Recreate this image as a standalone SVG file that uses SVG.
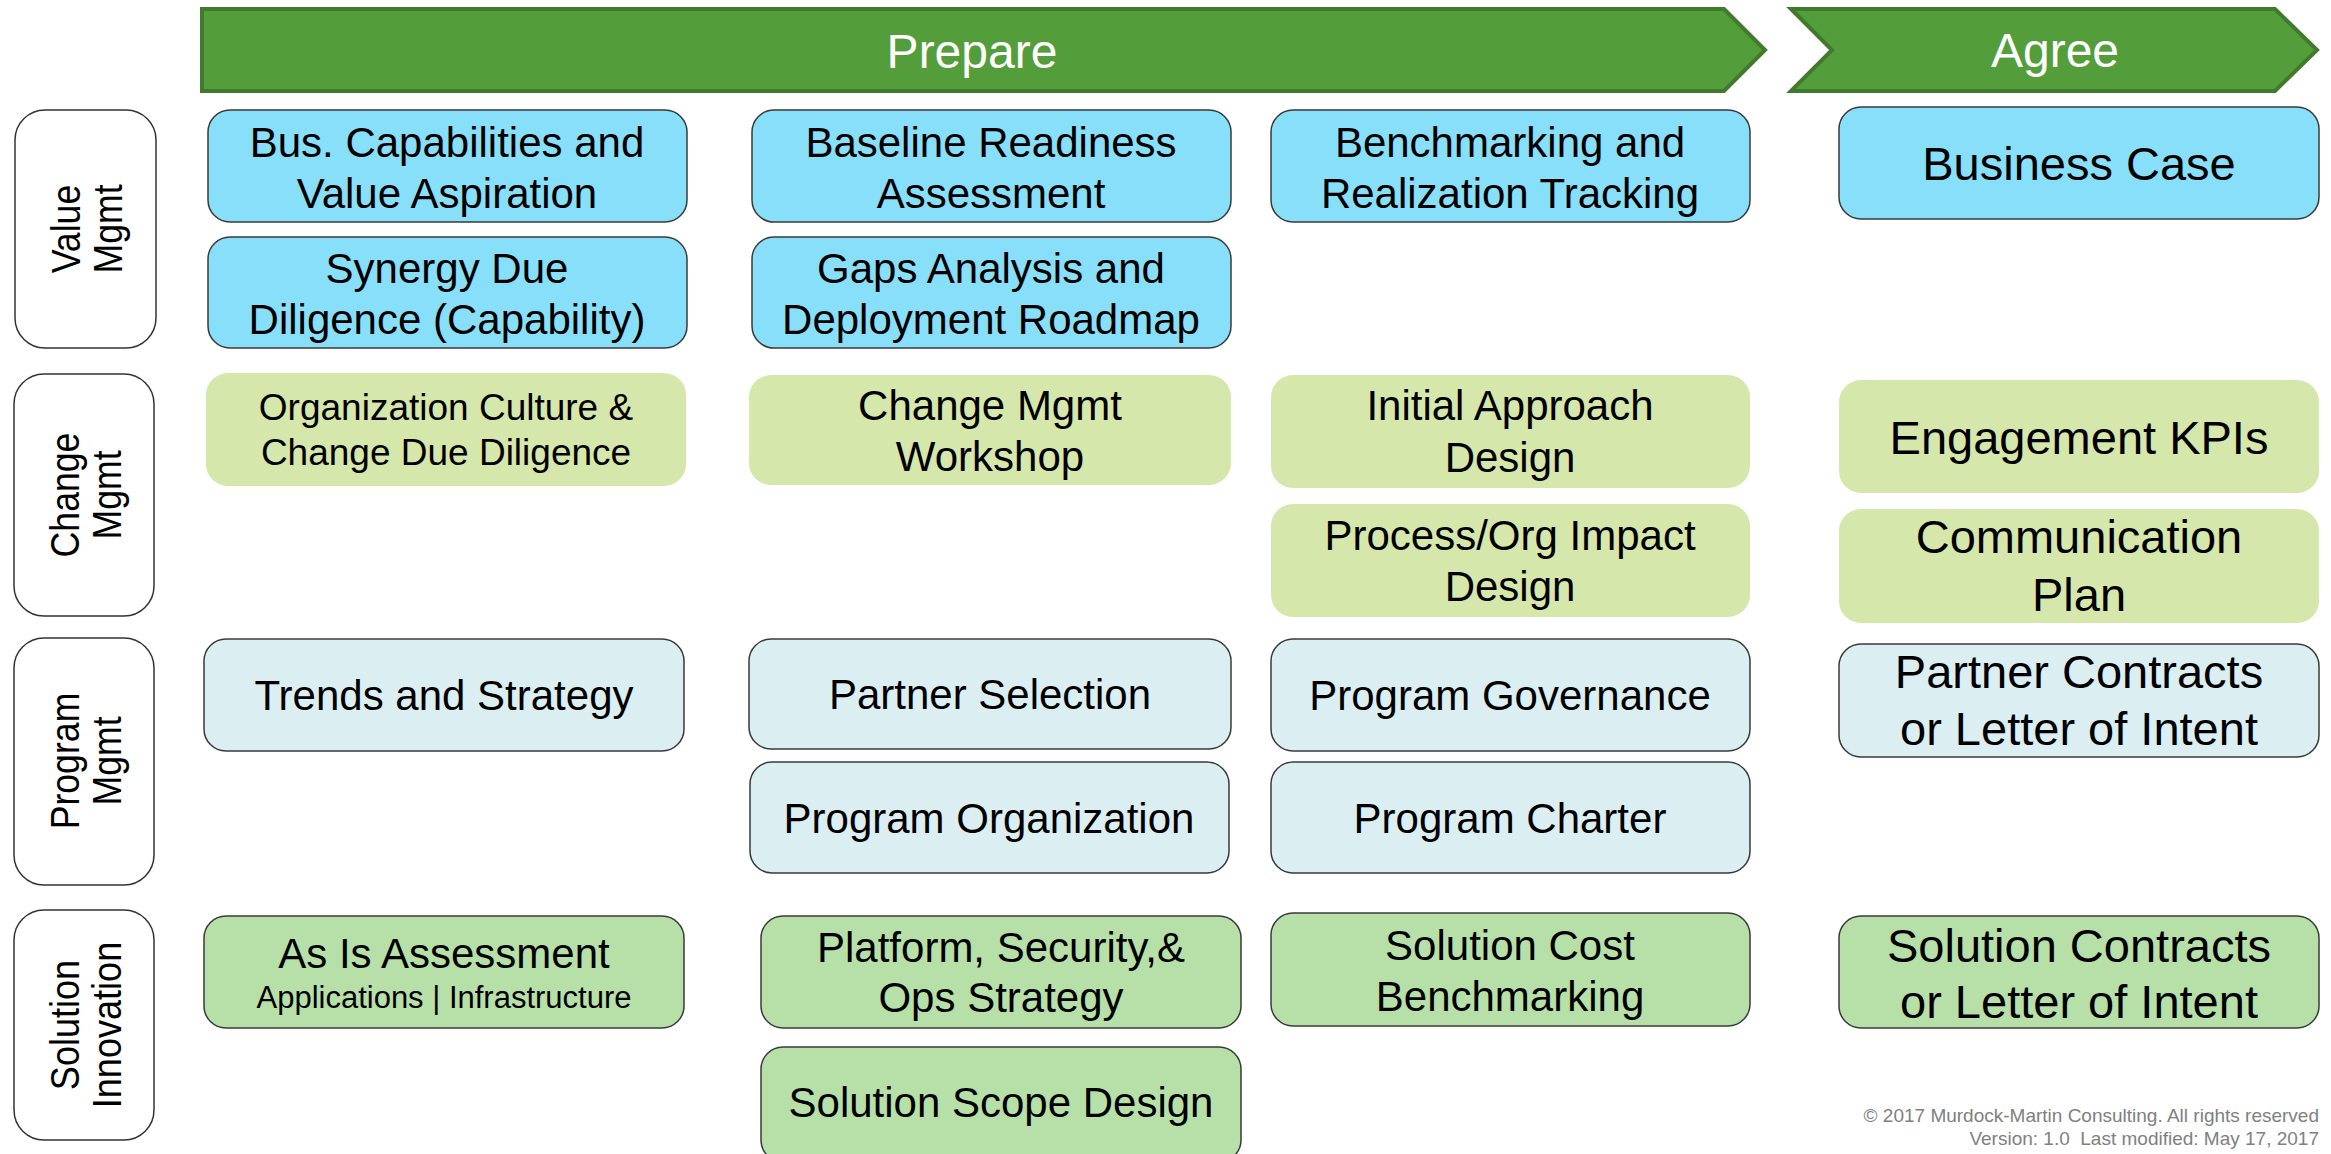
<svg xmlns="http://www.w3.org/2000/svg" width="2331" height="1154" viewBox="0 0 2331 1154">
<style>
text{font-family:"Liberation Sans",Arial,sans-serif;text-anchor:middle;fill:#000}
.phase{fill:#539d3b;stroke:#427a2d;stroke-width:4;stroke-linejoin:miter}
.pt{fill:#fff;font-size:48px}
.lab{fill:#fff;stroke:#333;stroke-width:1.5}
.lt{font-size:41px}
.vm{fill:#87dff9;stroke:#3a3a3a;stroke-width:1.5}
.cm{fill:#d6e7ab;stroke:none}
.pm{fill:#dbeff3;stroke:#3a3a3a;stroke-width:1.5}
.si{fill:#b7e0a9;stroke:#3a3a3a;stroke-width:1.5}
.t42{font-size:42px}
.t47{font-size:47px}
.t37{font-size:37px}
.t31{font-size:31px}
.foot{font-size:19px;fill:#808080;text-anchor:end}
</style>
<rect width="2331" height="1154" fill="#fff"/>

<g id="phase-prepare">
<polygon class="phase" points="202,9 1724,9 1765,50 1724,91 202,91"/>
<text class="pt" x="972" y="68">Prepare</text>
</g>
<g id="phase-agree">
<polygon class="phase" points="1791,9 2275,9 2317,50 2275,91 1791,91 1832,50"/>
<text class="pt" x="2055" y="67">Agree</text>
</g>

<g id="row-value">
<rect class="lab" x="15" y="110" width="141" height="238" rx="30"/>
<g transform="translate(85,229) rotate(-90) scale(0.87,1)"><text class="lt" x="0" y="-5">Value</text><text class="lt" x="0" y="37">Mgmt</text></g>
</g>
<g id="row-change">
<rect class="lab" x="14" y="374" width="140" height="242" rx="30"/>
<g transform="translate(84,495) rotate(-90) scale(0.87,1)"><text class="lt" x="0" y="-5">Change</text><text class="lt" x="0" y="37">Mgmt</text></g>
</g>
<g id="row-program">
<rect class="lab" x="14" y="638" width="140" height="247" rx="30"/>
<g transform="translate(84,761) rotate(-90) scale(0.87,1)"><text class="lt" x="0" y="-5">Program</text><text class="lt" x="0" y="37">Mgmt</text></g>
</g>
<g id="row-solution">
<rect class="lab" x="14" y="910" width="140" height="230" rx="30"/>
<g transform="translate(84,1025) rotate(-90) scale(0.88,1)"><text class="lt" x="0" y="-5">Solution</text><text class="lt" x="0" y="37">Innovation</text></g>
</g>

<g id="connectors"></g>

<g id="n-bus-cap"><rect class="vm" x="208" y="110" width="479" height="112" rx="22"/><text class="t42" x="447" y="157">Bus. Capabilities and</text><text class="t42" x="447" y="208">Value Aspiration</text></g>
<g id="n-synergy"><rect class="vm" x="208" y="237" width="479" height="111" rx="22"/><text class="t42" x="447" y="283">Synergy Due</text><text class="t42" x="447" y="334">Diligence (Capability)</text></g>
<g id="n-baseline"><rect class="vm" x="752" y="110" width="479" height="112" rx="22"/><text class="t42" x="991" y="157">Baseline Readiness</text><text class="t42" x="991" y="208">Assessment</text></g>
<g id="n-gaps"><rect class="vm" x="752" y="237" width="479" height="111" rx="22"/><text class="t42" x="991" y="283">Gaps Analysis and</text><text class="t42" x="991" y="334">Deployment Roadmap</text></g>
<g id="n-bench"><rect class="vm" x="1271" y="110" width="479" height="112" rx="22"/><text class="t42" x="1510" y="157">Benchmarking and</text><text class="t42" x="1510" y="208">Realization Tracking</text></g>
<g id="n-bizcase"><rect class="vm" x="1839" y="107" width="480" height="112" rx="22"/><text class="t47" x="2079" y="180">Business Case</text></g>

<g id="n-org-culture"><rect class="cm" x="206" y="373" width="480" height="113" rx="22"/><text class="t37" x="446" y="420">Organization Culture &amp;</text><text class="t37" x="446" y="465">Change Due Diligence</text></g>
<g id="n-cm-workshop"><rect class="cm" x="749" y="375" width="482" height="110" rx="22"/><text class="t42" x="990" y="420">Change Mgmt</text><text class="t42" x="990" y="471">Workshop</text></g>
<g id="n-initial"><rect class="cm" x="1271" y="375" width="479" height="113" rx="22"/><text class="t42" x="1510" y="420">Initial Approach</text><text class="t42" x="1510" y="472">Design</text></g>
<g id="n-process"><rect class="cm" x="1271" y="504" width="479" height="113" rx="22"/><text class="t42" x="1510" y="550">Process/Org Impact</text><text class="t42" x="1510" y="601">Design</text></g>
<g id="n-kpi"><rect class="cm" x="1839" y="380" width="480" height="113" rx="22"/><text class="t47" x="2079" y="454">Engagement KPIs</text></g>
<g id="n-comm"><rect class="cm" x="1839" y="509" width="480" height="114" rx="22"/><text class="t47" x="2079" y="553">Communication</text><text class="t47" x="2079" y="611">Plan</text></g>

<g id="n-trends"><rect class="pm" x="204" y="639" width="480" height="112" rx="22"/><text class="t42" x="444" y="710">Trends and Strategy</text></g>
<g id="n-partner-sel"><rect class="pm" x="749" y="639" width="482" height="110" rx="22"/><text class="t42" x="990" y="709">Partner Selection</text></g>
<g id="n-prog-org"><rect class="pm" x="750" y="762" width="479" height="111" rx="22"/><text class="t42" x="989" y="833">Program Organization</text></g>
<g id="n-gov"><rect class="pm" x="1271" y="639" width="479" height="112" rx="22"/><text class="t42" x="1510" y="710">Program Governance</text></g>
<g id="n-charter"><rect class="pm" x="1271" y="762" width="479" height="111" rx="22"/><text class="t42" x="1510" y="833">Program Charter</text></g>
<g id="n-partner-contracts"><rect class="pm" x="1839" y="644" width="480" height="113" rx="22"/><text class="t47" x="2079" y="688">Partner Contracts</text><text class="t47" x="2079" y="745">or Letter of Intent</text></g>

<g id="n-asis"><rect class="si" x="204" y="916" width="480" height="112" rx="22"/><text class="t42" x="444" y="968">As Is Assessment</text><text class="t31" x="444" y="1008">Applications | Infrastructure</text></g>
<g id="n-platform"><rect class="si" x="761" y="916" width="480" height="112" rx="22"/><text class="t42" x="1001" y="962">Platform, Security,&amp;</text><text class="t42" x="1001" y="1012">Ops Strategy</text></g>
<g id="n-scope"><rect class="si" x="761" y="1047" width="480" height="115" rx="22"/><text class="t42" x="1001" y="1117">Solution Scope Design</text></g>
<g id="n-cost"><rect class="si" x="1271" y="913" width="479" height="113" rx="22"/><text class="t42" x="1510" y="960">Solution Cost</text><text class="t42" x="1510" y="1011">Benchmarking</text></g>
<g id="n-sol-contracts"><rect class="si" x="1839" y="916" width="480" height="112" rx="22"/><text class="t47" x="2079" y="962">Solution Contracts</text><text class="t47" x="2079" y="1018">or Letter of Intent</text></g>

<g id="footer">
<text class="foot" x="2319" y="1122">© 2017 Murdock-Martin Consulting. All rights reserved</text>
<text class="foot" x="2319" y="1145" xml:space="preserve">Version: 1.0  Last modified: May 17, 2017</text>
</g>
</svg>
